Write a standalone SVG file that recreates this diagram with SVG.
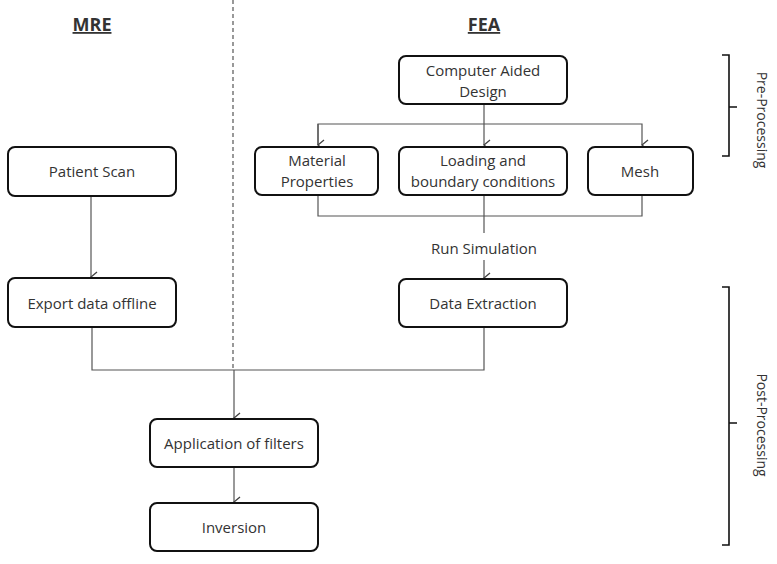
<svg xmlns="http://www.w3.org/2000/svg" width="777" height="564" viewBox="0 0 777 564">
<style>
.box{fill:#fff;stroke:#111;stroke-width:2}
.t{font-family:"Open Sans","Liberation Sans",sans-serif;font-size:15px;fill:#333;text-anchor:middle;dominant-baseline:central}
.r{font-size:14px}
.h{font-family:"Open Sans","Liberation Sans",sans-serif;font-size:18px;font-weight:bold;fill:#333;text-anchor:middle;text-decoration:underline}
.c{fill:none;stroke:#555;stroke-width:1.2}
.br{fill:none;stroke:#111;stroke-width:1.6}
</style>
<defs>
<marker id="ar" markerWidth="12" markerHeight="12" refX="6" refY="10" orient="auto" markerUnits="userSpaceOnUse" viewBox="0 0 12 12">
<path d="M1,4 L6,10 L11,4" fill="none" stroke="#444" stroke-width="1.3"/>
</marker>
</defs>
<rect width="777" height="564" fill="#fff"/>
<text class="h" x="92" y="31">MRE</text>
<text class="h" x="484" y="31">FEA</text>
<line x1="233" y1="0" x2="233" y2="370" stroke="#555" stroke-width="1.2" stroke-dasharray="4,3"/>
<g id="connectors">
<path class="c" d="M91,196 V277" marker-end="url(#ar)"/>
<path class="c" d="M484,104 V145" marker-end="url(#ar)"/>
<path class="c" d="M318,145 V124 H642 V145" marker-end="url(#ar)"/>
<path class="c" d="M318,124 V145" marker-end="url(#ar)"/>
<path class="c" d="M318,195 V216 H642 V195"/>
<path class="c" d="M484,195 V233"/>
<path class="c" d="M484,260 V278" marker-end="url(#ar)"/>
<path class="c" d="M92,327 V370 H484 V327"/>
<path class="c" d="M234,370 V418" marker-end="url(#ar)"/>
<path class="c" d="M234,467 V502" marker-end="url(#ar)"/>
</g>
<g id="patient-scan"><rect class="box" x="8" y="147" width="168" height="49" rx="7"/><text class="t" x="92" y="171">Patient Scan</text></g>
<g id="export-data"><rect class="box" x="8" y="278" width="168" height="49" rx="7"/><text class="t" x="92" y="303">Export data offline</text></g>
<g id="cad"><rect class="box" x="399" y="56" width="168" height="48" rx="7"/><text class="t" x="483" y="70">Computer Aided</text><text class="t" x="483" y="91">Design</text></g>
<g id="material"><rect class="box" x="255" y="147" width="123" height="48" rx="7"/><text class="t" x="317" y="160">Material</text><text class="t" x="317" y="181">Properties</text></g>
<g id="loading"><rect class="box" x="399" y="147" width="168" height="48" rx="7"/><text class="t" x="483" y="160">Loading and</text><text class="t" x="483" y="181">boundary conditions</text></g>
<g id="mesh"><rect class="box" x="588" y="147" width="105" height="48" rx="7"/><text class="t" x="640" y="171">Mesh</text></g>
<g id="run-sim"><text class="t" x="484" y="248">Run Simulation</text></g>
<g id="data-extraction"><rect class="box" x="399" y="279" width="168" height="48" rx="7"/><text class="t" x="483" y="303">Data Extraction</text></g>
<g id="filters"><rect class="box" x="150" y="419" width="168" height="48" rx="7"/><text class="t" x="234" y="443">Application of filters</text></g>
<g id="inversion"><rect class="box" x="150" y="503" width="168" height="48" rx="7"/><text class="t" x="234" y="527">Inversion</text></g>
<g id="pre-bracket"><path class="br" d="M722,55 H729 V156 H722 M729,107 H737"/><text class="t r" transform="translate(762,120) rotate(90)">Pre-Processing</text></g>
<g id="post-bracket"><path class="br" d="M722,287 H729 V545 H722 M729,423 H737"/><text class="t r" transform="translate(762,425) rotate(90)">Post-Processing</text></g>
</svg>
